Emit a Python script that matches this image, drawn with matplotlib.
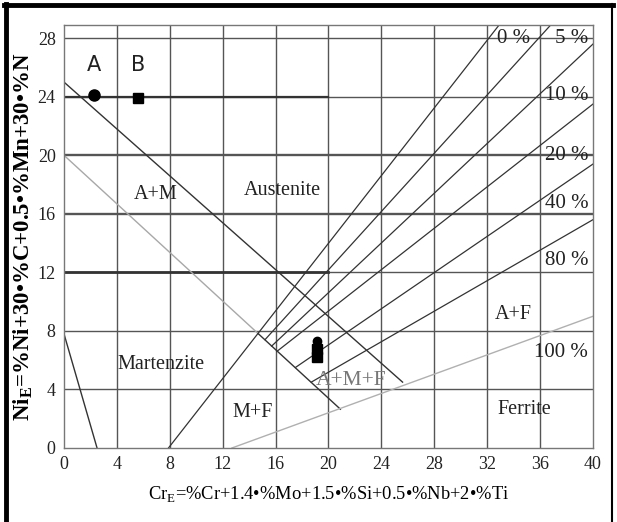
import matplotlib
matplotlib.use("Agg")
import matplotlib.pyplot as plt
from matplotlib.lines import Line2D

plt.rcParams['font.family'] = ['Liberation Serif', 'DejaVu Serif']
plt.rcParams['mathtext.fontset'] = 'custom'
plt.rcParams['mathtext.rm'] = 'Liberation Serif'
plt.rcParams['mathtext.bf'] = 'Liberation Serif:bold'

# phase boundaries (Cr_E, Ni_E)
aus_x = [0, 25.6]
aus_y = [25, 4.5]
mart_x = [0, 14.7]
mart_y = [20, 7.8]
mart_end_x = [14.7, 20.9]
mart_end_y = [7.8, 2.65]
ms_x = [0, 2.5]
ms_y = [7.8, 0]

# iso-ferrite lines: 0, 5, 10, 20, 40, 80 %
ferrite_x = [[7.9, 32.9], [15.2, 36.8], [15.7, 40], [16.1, 40], [17.5, 40], [18.7, 40]]
ferrite_y = [[0, 28.9], [7.4, 28.9], [6.96, 27.6], [6.6, 23.5], [5.5, 19.4], [4.5, 15.6]]
full_ferrite_x = [12.7, 40]
full_ferrite_y = [0, 9.0]

# percent labels
pct_labels = ['0 %', '5 %', '10 %', '20 %', '40 %', '80 %', '100 %']
pct_x = [34.0, 38.4, 38.0, 38.0, 38.0, 38.0, 37.6]
pct_y = [28.0, 28.0, 24.1, 20.0, 16.7, 12.8, 6.5]

# region labels
regions = ['A+M', 'Austenite', 'Martenzite', 'M+F', 'A+M+F', 'A+F', 'Ferrite']
region_x = [6.9, 16.5, 7.3, 14.3, 21.7, 34.0, 34.8]
region_y = [17.3, 17.6, 5.7, 2.4, 4.6, 9.1, 2.6]

# welded samples
samples = ['A', 'B']
sample_x = [2.3, 5.6]
sample_y = [24.1, 23.9]
weld_x = [19.1, 19.1, 19.1]
weld_y = [7.3, 6.75, 6.25]

fig = plt.figure(figsize=(6.17, 5.22), dpi=100)
ax = fig.add_axes([0.1037, 0.1418, 0.8574, 0.8103])
ax.set_xlim(0, 40)
ax.set_ylim(0, 28.9)

for gx in range(4, 40, 4):
    ax.axvline(gx, color='#555555', lw=1.0, zorder=1)
for gy in range(4, 29, 4):
    w = 1.7 if gy in (16, 20) else 1.0
    ax.axhline(gy, color='#555555', lw=w, zorder=1)
ax.plot([0, 20], [12, 12], color='#333333', lw=2.0, zorder=1)
ax.plot([0, 20], [24, 24], color='#333333', lw=1.6, zorder=1)

dark = '#333333'
ax.plot(aus_x, aus_y, color=dark, lw=1.0)
ax.plot(mart_x, mart_y, color='#a8a8a8', lw=1.0)
ax.plot(mart_end_x, mart_end_y, color=dark, lw=1.0)
ax.plot(ms_x, ms_y, color=dark, lw=1.0)
for fx, fy in zip(ferrite_x, ferrite_y):
    ax.plot(fx, fy, color=dark, lw=0.9)
ax.plot(full_ferrite_x, full_ferrite_y, color='#b0b0b0', lw=1.0)

for t, x, y in zip(pct_labels, pct_x, pct_y):
    ax.text(x, y, t, fontsize=15, ha='center', va='center', color='#222222')
for t, x, y in zip(regions, region_x, region_y):
    c = '#777777' if t == 'A+M+F' else '#222222'
    fs = 15.5 if t == 'A+M+F' else 14.5
    ax.text(x, y, t, fontsize=fs, ha='center', va='center', color=c)

ax.plot(sample_x[0], sample_y[0], 'o', color='black', ms=8)
ax.plot(sample_x[1], sample_y[1], 's', color='black', ms=7)
for t, x in zip(samples, sample_x):
    ax.text(x, 26.2, t, fontsize=15, ha='center', va='center',
            family='DejaVu Sans', color='#222222')
ax.plot(weld_x[:1], weld_y[:1], 'o', color='black', ms=6)
ax.plot(weld_x[1:], weld_y[1:], 's', color='black', ms=7)

ax.set_xticks(range(0, 41, 4))
ax.set_yticks(range(0, 29, 4))
ax.tick_params(length=0, labelsize=13, pad=6, colors='#222222')
for s in ax.spines.values():
    s.set_color('#777777')
    s.set_linewidth(1.0)

ax.set_xlabel(r'Cr$_\mathregular{E}$=%Cr+1.4•%Mo+1.5•%Si+0.5•%Nb+2•%Ti',
              fontsize=13.3, labelpad=8)
ax.set_ylabel(r'Ni$_\mathbf{E}$=%Ni+30•%C+0.5•%Mn+30•%N',
              fontsize=16.5, fontweight='bold', labelpad=2)

# page frame: heavy left and top edges, thin right edge
fig.add_artist(Line2D([0.0097, 0.0097], [0, 0.992], color='black', lw=3.5,
                      transform=fig.transFigure))
fig.add_artist(Line2D([0.0068, 0.993], [0.990, 0.990], color='black', lw=3.5,
                      transform=fig.transFigure))
fig.add_artist(Line2D([0.992, 0.992], [0, 0.992], color='black', lw=1.5,
                      transform=fig.transFigure))

fig.savefig('out.png', dpi=100)
